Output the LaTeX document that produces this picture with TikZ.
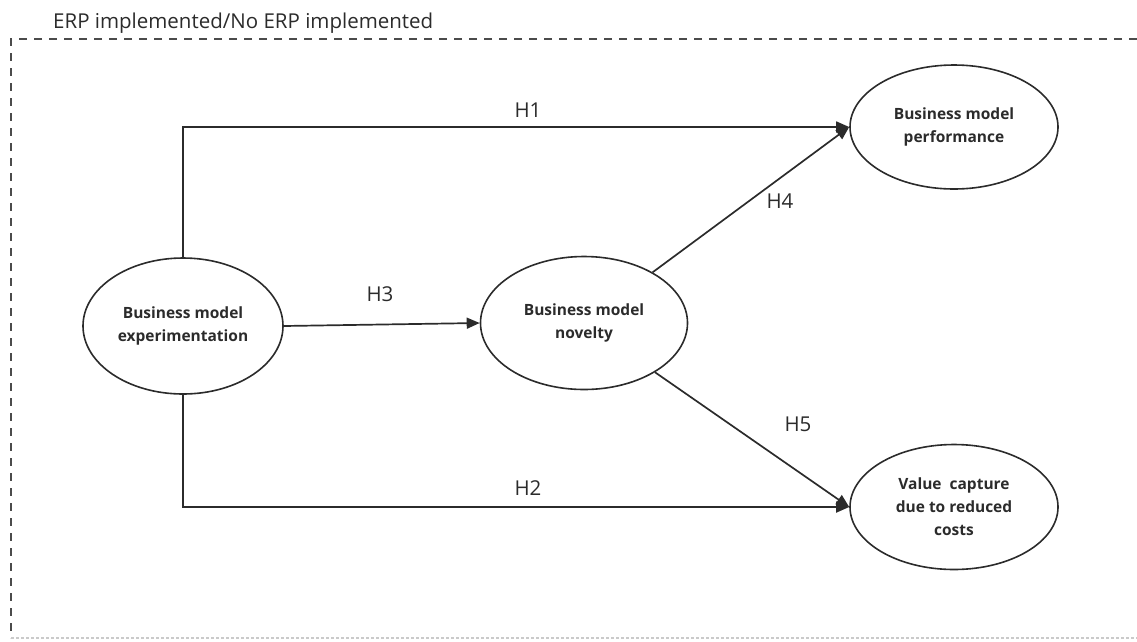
\documentclass[tikz,border=0pt]{standalone}
\usepackage{fontspec}
\setmainfont{Open Sans}
\usetikzlibrary{arrows.meta,shapes.geometric}
\definecolor{ink}{HTML}{2B2B2B}
\tikzset{
  oval/.style={ellipse, draw=ink, line width=1.6pt, inner sep=0pt, align=center,
    font=\bfseries\fontsize{15.5}{23}\selectfont, text=ink},
  link/.style={draw=ink, line width=1.7pt, -{Triangle[length=13pt,width=11pt]}},
  hlabel/.style={font=\fontsize{20.5}{24}\selectfont, text=ink},
  border/.style={draw=ink!85, line width=1.3pt, dash pattern=on 8pt off 7pt},
}
\begin{document}
\begin{tikzpicture}[x=1pt,y=-1pt]
\useasboundingbox (0,0) rectangle (1137,641);
% frame
\coordinate (tpos) at (53,28);
\node[anchor=base west, inner sep=0pt, font=\fontsize{20.5}{24}\selectfont, text=ink] (title) at (tpos) {ERP implemented/No ERP implemented};
\coordinate (tl) at (11,39);
\coordinate (tr) at (1137,39);
\coordinate (bl) at (11,638);
\coordinate (br) at (1137,638);
\draw[border] (tr) -- (tl) -- (bl);
\draw[draw=ink!25, line width=1.2pt, dash pattern=on 3pt off 2pt] (bl) -- (br);
% nodes
\node[oval, minimum width=200pt, minimum height=136pt] (exp) at (183,326) {Business model\\experimentation};
\node[oval, minimum width=207pt, minimum height=133pt] (nov) at (584,323) {Business model\\novelty};
\node[oval, minimum width=208pt, minimum height=124pt] (perf) at (954,127) {Business model\\performance};
\node[oval, minimum width=208pt, minimum height=125pt] (val) at (954,507) {Value\ \ capture\\due to reduced\\costs};
% connectors
\draw[link] (exp.north) |- (perf.west);
\draw[link] (exp.south) |- (val.west);
\draw[link] (exp.east) -- (nov.west);
\draw[link] (nov) -- (perf.west);
\draw[link] (nov) -- (val.west);
% labels
\node[hlabel] (h1) at (528,110) {H1};
\node[hlabel] (h2) at (528,488) {H2};
\node[hlabel] (h3) at (380,294) {H3};
\node[hlabel] (h4) at (780,201) {H4};
\node[hlabel] (h5) at (798,424) {H5};
\end{tikzpicture}
\end{document}
